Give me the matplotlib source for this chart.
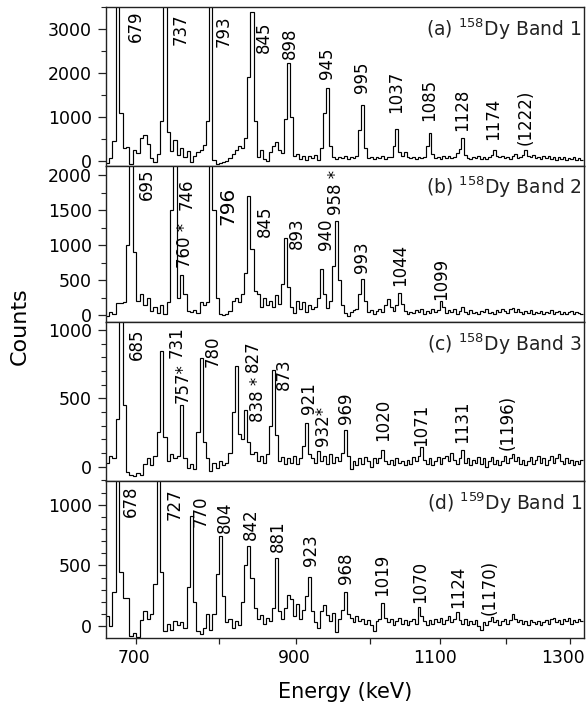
import numpy as np
import matplotlib
matplotlib.use("Agg")
import matplotlib.pyplot as plt
from matplotlib.ticker import FixedLocator, MultipleLocator, NullFormatter
from matplotlib.transforms import blended_transform_factory, offset_copy

plt.rcParams['font.family'] = ['DejaVu Sans']

# ---------------- data ----------------
bin_start = 664   # keV, lower edge of first bin
bin_width = 4     # keV

counts_a = [-40, 60, 450, 8000, 1100, 300, 320, -60, 260, 180,
            520, 600, 380, 60, -20, 160, 900, 8000, 650, 220,
            480, 140, 300, 90, 220, -30, 110, 200, 260, 360,
            900, 8000, 30, -60, -50, -20, 10, 70, 160, 260,
            340, 300, 520, 1900, 3380, 900, 90, 260, 50, -10,
            200, 350, 440, 250, 190, 950, 2230, 1000, 120, 160,
            40, 120, 20, 110, 60, 130, 30, 300, 1100, 1660,
            350, 80, 40, 90, 60, 110, 40, 90, 70, 120,
            700, 1270, 300, 60, 100, 40, 80, 60, 110, 50,
            90, 80, 350, 730, 200, 120, 200, 90, 60, 100,
            40, 90, 60, 100, 350, 640, 150, 60, 100, 40,
            110, 70, 120, 60, 90, 180, 280, 520, 130, 70,
            40, 90, 60, 110, 50, 80, 40, 90, 140, 250,
            120, 90, 110, 60, 100, 40, 120, 160, 70, 100,
            140, 260, 120, 80, 130, 60, 100, 40, 110, 70,
            120, 50, 90, 30, 80, 50, 100, 30, 70, 40,
            80, 30, 60, 20]

counts_b = [-20, 40, 10, 170, 170, 180, 1000, 6000, 900, 200,
            300, 150, 250, 60, 120, 30, 140, 20, 180, 1500,
            6000, 250, 575, 300, 60, 40, 70, 30, 190, 150,
            180, 6000, 1500, 250, 20, 0, 10, 60, 200, 250,
            180, 300, 600, 1700, 950, 350, 300, 120, 250, 140,
            200, 120, 280, 160, 450, 1100, 400, 120, 30, 200,
            80, 180, 40, 150, 80, 110, 250, 665, 300, 100,
            200, 700, 1350, 500, 150, 30, -20, 40, 70, 90,
            300, 515, 200, 50, 70, 20, 60, 90, 40, 140,
            230, 110, 60, 150, 310, 160, 60, 20, 50, 30,
            70, 40, 90, 20, 60, 30, 80, 40, 70, 205,
            120, 30, 70, 50, 90, 20, 60, 110, 40, 20,
            70, 30, 50, 10, 60, 40, 80, 30, 50, 20,
            70, 40, 90, 60, 30, 80, 100, 50, 90, 40,
            20, 60, 30, 70, 20, 50, 30, 60, 10, 50,
            30, 70, 20, 40, 60, 20, 50, 10, 40, 60,
            20, 50, 30, 10]

counts_c = [30, 80, 60, 350, 3000, 450, -40, -60, -70, -50,
            -60, 20, 60, 10, 80, 250, 848, 220, 40, 90,
            60, 80, 451, 60, -10, 20, -20, 250, 795, 180,
            60, -30, 30, -10, 40, 10, 30, 100, 400, 735,
            240, 200, 415, 180, 90, 110, 40, 80, 30, 90,
            300, 710, 230, 40, 70, 20, 60, 30, 80, 20,
            60, 150, 316, 90, 60, 30, 111, 40, 80, 20,
            90, 30, 70, 40, 100, 266, 80, -20, 40, 10,
            60, 20, 70, 40, 0, 60, 30, 60, 125, 40,
            20, 50, 10, 60, 30, 40, 10, 50, 20, 70,
            40, 80, 146, 50, 20, 60, 10, 40, 70, 20,
            60, 80, 40, 100, 50, 20, 60, 125, 30, 60,
            10, 50, 30, 70, 20, 60, 0, 40, 70, 20,
            50, 10, 40, 80, 30, 60, 90, 40, 70, 20,
            50, 10, 40, 70, 20, 50, 80, 30, 60, 10,
            50, 80, 30, 60, 90, 40, 20, 60, 30, 50,
            10, 40, 20, 50]

counts_d = [80, 0, 280, 3000, 450, 230, 230, -80, -60, -90,
            50, 120, 60, 100, 350, 3000, 450, -40, 20, -30,
            40, 10, 30, -20, 320, 905, 200, -40, -70, -20,
            100, -30, 100, 430, 740, 250, 30, 60, -20, 40,
            10, 200, 500, 660, 400, 150, 60, 90, 20, 70,
            40, 150, 560, 120, 60, 150, 260, 220, 80, 180,
            60, 130, 250, 409, 120, 30, -20, 120, 175, 90,
            40, 110, -50, 60, 130, 285, 100, 70, 30, 80,
            40, 60, 20, 50, 10, -40, 40, 60, 190, 70,
            30, 60, 10, 40, 70, 20, 50, 10, 40, 60,
            20, 161, 80, 40, 10, 50, 20, 60, 30, 70,
            20, 50, 80, 30, 60, 118, 50, 20, 60, 10,
            40, 20, 50, 0, -30, 30, 10, 40, 75, 30,
            50, 10, 40, 60, 20, 50, 100, 60, 30, 50,
            20, 40, 10, 50, 30, 20, 40, 10, 30, 50,
            20, 60, 70, 30, 50, 20, 60, 40, 70, 20,
            50, 30, 60, 40]

titles = [r'(a) $^{158}$Dy Band 1', r'(b) $^{158}$Dy Band 2',
          r'(c) $^{158}$Dy Band 3', r'(d) $^{159}$Dy Band 1']

# peak labels (text, anchor energy, count level at bottom of text)
labels_a = ['679', '737', '793', '845', '898', '945', '995', '1037', '1085', '1128', '1174', '(1222)']
label_e_a = [699, 752.5, 806, 857, 891.8, 940.6, 989, 1037.8, 1084.5, 1132.8, 1180, 1230]
label_y_a = [2700, 2633, 2590, 2450, 2315, 1860, 1545, 1090, 910, 680, 477, 363]

labels_b = ['695', '746', '760 *', '796', '845', '893', '940', '958 *', '993', '1044', '1099']
label_e_b = [713, 760.5, 758.5, 811, 858, 900, 939.5, 953, 989.5, 1043, 1102]
label_y_b = [1650, 1505, 674, 1290, 1120, 946, 930, 1440, 608, 416, 215]

labels_c = ['685', '731', '757*', '780', '827', '838 *', '873', '921', '932*', '969',
            '1020', '1071', '1131', '(1196)']
label_e_c = [701, 748.3, 754.8, 791.6, 842.6, 850, 884, 917, 935, 966.5, 1018.6, 1072.5, 1134, 1202]
label_y_c = [780, 795, 466, 731, 695, 329, 561, 385, 150, 312, 186, 148, 173, 124]

labels_d = ['678', '727', '770', '804', '842', '881', '923', '968', '1019', '1070', '1124', '(1170)']
label_e_d = [694, 745, 777, 808, 840, 875, 920, 966.5, 1017.5, 1071, 1127.6, 1174]
label_y_d = [903, 876, 820, 766, 710, 614, 499, 347, 248, 190, 149, 91]

x_ticks = [700, 800, 900, 1000, 1100, 1200, 1300]
x_ticklabels_shown = [700, 900, 1100, 1300]
x_ticklabel_shift_px = [-2, -2, -5, -7]   # small leftward offsets seen in the reference

# ---------------- layout ----------------
W, H = 587, 713
fig = plt.figure(figsize=(W / 100, H / 100), dpi=100)
gs = fig.add_gridspec(4, 1, left=106 / W, right=584 / W, top=1 - 7 / H,
                      bottom=1 - 638 / H, hspace=0, height_ratios=[159, 156, 159, 157])

ylims = [(-114, 3500), (-100, 2136), (-105, 1058), (-99, 1198)]
ymajor = [[0, 1000, 2000, 3000], [0, 500, 1000, 1500, 2000], [0, 500, 1000], [0, 500, 1000]]
yminor = [500, 250, 100, 100]
all_counts = [counts_a, counts_b, counts_c, counts_d]
all_labels = [(labels_a, label_e_a, label_y_a), (labels_b, label_e_b, label_y_b),
              (labels_c, label_e_c, label_y_c), (labels_d, label_e_d, label_y_d)]


def fwd(x):
    return np.sqrt(np.clip(x, 1e-9, None))


def inv(x):
    return np.square(x)


spine_col = '#222222'
for i in range(4):
    ax = fig.add_subplot(gs[i])
    ax.set_xscale('function', functions=(fwd, inv))
    counts = np.asarray(all_counts[i], dtype=float)
    edges = bin_start + bin_width * np.arange(len(counts) + 1)
    ax.stairs(counts, edges, baseline=None, color='black', lw=0.85)
    ax.set_xlim(665, 1322)
    ax.set_ylim(*ylims[i])
    ax.yaxis.set_major_locator(FixedLocator(ymajor[i]))
    ax.yaxis.set_minor_locator(MultipleLocator(yminor[i]))
    ax.tick_params(axis='y', which='major', direction='out', length=6, width=0.9,
                   labelsize=12.5, pad=4, color=spine_col)
    ax.tick_params(axis='y', which='minor', direction='out', length=3.5, width=0.8,
                   color=spine_col)
    for s in ax.spines.values():
        s.set_linewidth(1.0)
        s.set_color(spine_col)
    if i < 3:
        ax.tick_params(axis='x', which='both', bottom=False, labelbottom=False)
    else:
        ax.xaxis.set_major_locator(FixedLocator(x_ticks))
        ax.xaxis.set_minor_locator(FixedLocator([]))
        ax.xaxis.set_major_formatter(NullFormatter())
        ax.tick_params(axis='x', which='major', direction='out', length=4.5, width=0.9,
                       color=spine_col)
        trans = blended_transform_factory(ax.transData, ax.transAxes)
        for v, dx in zip(x_ticklabels_shown, x_ticklabel_shift_px):
            tr = offset_copy(trans, fig=fig, x=dx, y=-11, units='dots')
            ax.text(v, 0, str(v), transform=tr, ha='center', va='top', fontsize=12.3)
    txts, es, ys = all_labels[i]
    for t, e, y in zip(txts, es, ys):
        fs = 14.5 if t == '796' else 12
        ax.text(e, y, t, rotation=90, ha='center', va='bottom', fontsize=fs, color='black')
    ax.text(0.996, 1 - 22 / 158, titles[i], transform=ax.transAxes, ha='right', va='center',
            fontsize=13.5, color='#222222')

fig.text(20 / W, 1 - 326 / H, 'Counts', rotation=90, ha='center', va='center', fontsize=16)
fig.text(345 / W, 1 - 692 / H, 'Energy (keV)', ha='center', va='center', fontsize=15)

fig.savefig('out.png', dpi=100)
